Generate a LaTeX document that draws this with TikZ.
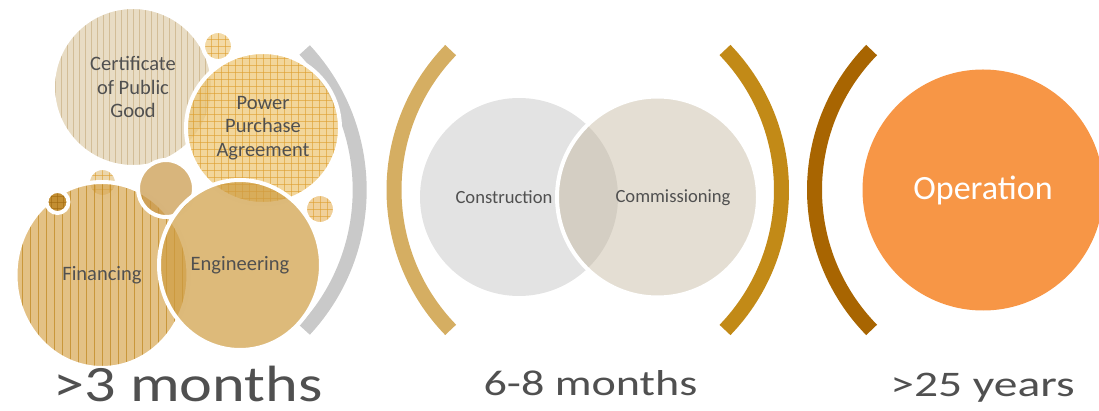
\documentclass[tikz,border=0pt]{standalone}
\usepackage{fontspec}
\setmainfont{Carlito}
\usepackage{graphicx}
\usetikzlibrary{shapes.geometric}
\definecolor{txt}{HTML}{505050}
\definecolor{certc}{HTML}{E8DCC4}
\definecolor{certst}{HTML}{C9B084}
\definecolor{ppac}{HTML}{ECC470}
\definecolor{ppast}{HTML}{DE9E2E}
\definecolor{finc}{HTML}{D7A651}
\definecolor{finst}{HTML}{BF861C}
\definecolor{engc}{HTML}{CE9C41}
\definecolor{midc}{HTML}{C79544}
\definecolor{darkc}{HTML}{C38E32}
\definecolor{darkst}{HTML}{A06A12}
\definecolor{smallc}{HTML}{F3DAA6}
\definecolor{smallc2}{HTML}{F0D09A}
\definecolor{fintopc}{HTML}{ECD6AA}
\definecolor{consc}{HTML}{E3E3E3}
\definecolor{commc}{HTML}{C1B399}
\definecolor{operc}{HTML}{F79646}
\definecolor{grayarc}{HTML}{C9C9C9}
\definecolor{tanarc}{HTML}{D5AE62}
\definecolor{goldarc}{HTML}{C28A17}
\definecolor{brownarc}{HTML}{A86501}
\tikzset{
  blob/.style={ellipse, draw=white, line width=4pt, inner sep=0pt, text=txt,
    text opacity=1, align=center, font=\fontsize{20.5}{23.3}\selectfont},
  vstripes/.style 2 args={path picture={
    \foreach \i in {-16,...,16}{
      \draw[#1, line width=0.7pt, draw opacity=0.7]
        ([xshift=\i*#2]path picture bounding box.north) --
        ([xshift=\i*#2]path picture bounding box.south);}}},
  gridpat/.style 2 args={path picture={
    \foreach \i in {-14,...,14}{
      \draw[#1, line width=0.6pt, draw opacity=0.6]
        ([xshift=\i*#2]path picture bounding box.north) --
        ([xshift=\i*#2]path picture bounding box.south);
      \draw[#1, line width=0.6pt, draw opacity=0.6]
        ([yshift=\i*#2]path picture bounding box.west) --
        ([yshift=\i*#2]path picture bounding box.east);}}},
  bracket/.style={line width=15pt},
  bigtext/.style={anchor=base, text=txt, inner sep=0pt, text depth=0pt},
  midtext/.style={text=txt, font=\fontsize{18.6}{21}\selectfont, anchor=center},
}
\begin{document}
\begin{tikzpicture}[x=1pt,y=-1pt]
\clip (0,0) rectangle (1099,411);
\useasboundingbox (0,0) rectangle (1099,411);

% brackets
\draw[bracket, line width=14pt, grayarc] (154,190) ++(-42.9:205.7) arc[start angle=-42.9, end angle=42.9, radius=205.7];
\draw[bracket, tanarc] (595,190) ++(135.9:201) arc[start angle=135.9, end angle=224.1, radius=201];
\draw[bracket, goldarc] (579.8,190) ++(-43.96:201.7) arc[start angle=-43.96, end angle=43.96, radius=201.7];
\draw[bracket, brownarc] (1014.5,190) ++(135.6:200) arc[start angle=135.6, end angle=224.4, radius=200];

% left cluster
\node[blob, minimum width=160pt, minimum height=160pt, fill=certc, vstripes={certst}{6pt}] (cert) at (133,87) {Certificate\\of Public\\Good};
\node[blob, minimum width=30pt, minimum height=30pt, fill=smallc, gridpat={ppast}{7pt}] (stop) at (218,46) {};
\node[blob, minimum width=29pt, minimum height=29pt, fill=fintopc, gridpat={ppast}{7pt}] (sfin) at (102.5,182.5) {};
\node[blob, minimum width=154pt, minimum height=152pt, fill=ppac, fill opacity=0.7, gridpat={ppast}{7pt}] (ppa) at (263,128) {Power\\Purchase\\Agreement};
\node[blob, minimum width=173pt, minimum height=186pt, fill=finc, fill opacity=0.7, vstripes={finst}{8pt}] (fin) at (102,275) {Financing};
\node[blob, minimum width=22pt, minimum height=22pt, fill=darkc, gridpat={darkst}{6pt}] (sdark) at (57.5,202) {};
\node[blob, minimum width=56pt, minimum height=57pt, fill=midc, fill opacity=0.7] (smid) at (166,188.5) {};
\node[blob, minimum width=162pt, minimum height=170pt, fill=engc, fill opacity=0.7] (eng) at (240,265) {Engineering};
\node[blob, minimum width=30pt, minimum height=30pt, fill=smallc2, gridpat={ppast}{7pt}] (sright) at (320,209) {};

% middle
\node[circle, minimum size=198pt, inner sep=0pt, fill=consc] (cons) at (519,197) {};
\node[circle, minimum size=201pt, inner sep=0pt, fill=commc, fill opacity=0.43, draw=white, line width=4pt] (comm) at (657.5,197) {};
\node[midtext] (conslbl) at (504,197.5) {Construction};
\node[midtext] (commlbl) at (673,197.5) {Commissioning};

% operation
\node[circle, minimum size=241pt, inner sep=0pt, fill=operc, text=white, font=\fontsize{34}{40}\selectfont] (oper) at (983,190) {Operation};

% bottom labels
\node[bigtext, font=\fontsize{51}{51}\selectfont] (t1) at (188,401) {\scalebox{1.22}[1]{>3 months}};
\node[bigtext, font=\fontsize{36}{36}\selectfont] (t2) at (590.5,395) {\scalebox{1.28}[1]{6-8 months}};
\node[bigtext, font=\fontsize{36}{36}\selectfont] (t3) at (982.5,396) {\scalebox{1.32}[1]{>25 years}};
\end{tikzpicture}
\end{document}
